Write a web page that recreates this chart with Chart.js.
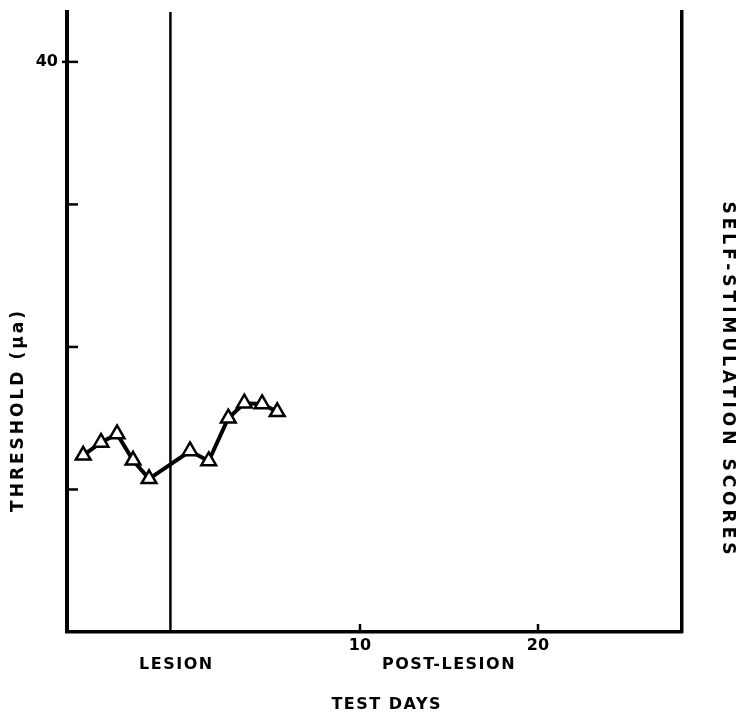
<!DOCTYPE html>
<html>
<head>
<meta charset="utf-8">
<script src="https://cdn.jsdelivr.net/npm/chart.js@4.4.0/dist/chart.umd.min.js"></script>
<style>
  html, body { margin: 0; padding: 0; background: #fff; }
  #contenedor { width: 736px; height: 717px; position: relative; }
</style>
</head>
<body>
<div id="contenedor"><canvas id="grafico"></canvas></div>
<script>
// Datos: umbral por dia de prueba (antes y despues de la lesion)
const dias = [-5.55, -4.55, -3.65, -2.75, -1.85, 0.45, 1.5, 2.6, 3.5, 4.5, 5.35];
const umbral = [12.4, 13.3, 13.9, 12.05, 10.75, 12.7, 12.0, 15.0, 16.05, 16.0, 15.45];
const diaLesion = -0.65;
const ticksX = [10, 20];
const ticksY = [10, 20, 30, 40];
const etiquetasY = ['40'];

const ejeX = { min: -6.46, max: 28.09 };
const ejeY = { min: 0, max: 43.5 };

const familia = '"DejaVu Sans"';

// Marcas de los ejes (hacia dentro) y textos sueltos
const pluginMarcas = {
    id: 'marcas',
    afterDraw(chart) {
        const ctx = chart.ctx;
        const x = chart.scales.x;
        const y = chart.scales.y;
        const area = chart.chartArea;
        ctx.save();
        ctx.strokeStyle = '#000';
        ctx.lineWidth = 2.5;
        ticksY.forEach(v => {
            const py = y.getPixelForValue(v);
            ctx.beginPath();
            ctx.moveTo(area.left - (v === 40 ? 5 : 0), py);
            ctx.lineTo(area.left + 11, py);
            ctx.stroke();
        });
        ticksX.forEach(v => {
            const px = x.getPixelForValue(v);
            ctx.beginPath();
            ctx.moveTo(px, area.bottom);
            ctx.lineTo(px, area.bottom - 8);
            ctx.stroke();
        });

        ctx.fillStyle = '#000';
        ctx.textAlign = 'center';
        ctx.textBaseline = 'middle';
        ctx.font = 'bold 16px ' + familia;
        ctx.letterSpacing = '1.5px';
        ctx.fillText('LESION', x.getPixelForValue(diaLesion) + 6, 665);
        ctx.fillText('POST-LESION', x.getPixelForValue(15), 665);
        ctx.fillText('TEST DAYS', x.getPixelForValue(11.5), 705);

        ctx.font = 'bold 17px ' + familia;
        ctx.letterSpacing = '3px';
        ctx.save();
        ctx.translate(19, 410);
        ctx.rotate(-Math.PI / 2);
        ctx.fillText('THRESHOLD (µa)', 0, 0);
        ctx.restore();

        ctx.letterSpacing = '4px';
        ctx.save();
        ctx.translate(727, 380);
        ctx.rotate(Math.PI / 2);
        ctx.fillText('SELF-STIMULATION SCORES', 0, 0);
        ctx.restore();
        ctx.restore();
    }
};

const fuenteTicks = { family: 'DejaVu Sans', size: 16, weight: 'bold' };

const ctxGrafico = document.getElementById('grafico').getContext('2d');
new Chart(ctxGrafico, {
    type: 'line',
    data: {
        datasets: [
            {
                label: 'Umbral',
                data: dias.map((d, i) => ({ x: d, y: umbral[i] })),
                borderColor: '#000',
                borderWidth: 4,
                pointStyle: 'triangle',
                pointRadius: 8.5,
                pointBackgroundColor: '#fff',
                pointBorderColor: '#000',
                pointBorderWidth: 2.5,
                tension: 0
            },
            {
                label: 'Lesion',
                data: [{ x: diaLesion, y: ejeY.min }, { x: diaLesion, y: ejeY.max }],
                borderColor: '#000',
                borderWidth: 2.5,
                pointRadius: 0
            }
        ]
    },
    options: {
        responsive: true,
        maintainAspectRatio: false,
        animation: false,
        layout: { padding: { left: 0, right: 54, top: 12, bottom: 0 } },
        plugins: { legend: { display: false }, tooltip: { enabled: false } },
        scales: {
            x: {
                type: 'linear',
                min: ejeX.min,
                max: ejeX.max,
                afterBuildTicks: s => { s.ticks = ticksX.map(v => ({ value: v })); },
                afterFit: s => { s.height = 85; s.paddingLeft = 0; s.paddingRight = 0; },
                grid: { display: false, drawTicks: false },
                border: { display: true, color: '#000', width: 3.5 },
                ticks: { color: '#000', font: fuenteTicks, padding: 4, maxRotation: 0 }
            },
            y: {
                min: ejeY.min,
                max: ejeY.max,
                afterBuildTicks: s => { s.ticks = ticksY.map(v => ({ value: v })); },
                afterFit: s => { s.width = 67; s.paddingTop = 0; s.paddingBottom = 0; },
                grid: { display: false, drawTicks: false },
                border: { display: true, color: '#000', width: 4 },
                ticks: {
                    color: '#000',
                    font: fuenteTicks,
                    padding: 9,
                    callback: v => etiquetasY.includes(String(v)) ? String(v) : ''
                }
            },
            y2: {
                position: 'right',
                min: ejeY.min,
                max: ejeY.max,
                afterFit: s => { s.width = 0; s.paddingTop = 0; s.paddingBottom = 0; },
                grid: { display: false, drawTicks: false },
                border: { display: true, color: '#000', width: 3.5 },
                ticks: { display: false }
            }
        }
    },
    plugins: [pluginMarcas]
});
</script>
</body>
</html>
